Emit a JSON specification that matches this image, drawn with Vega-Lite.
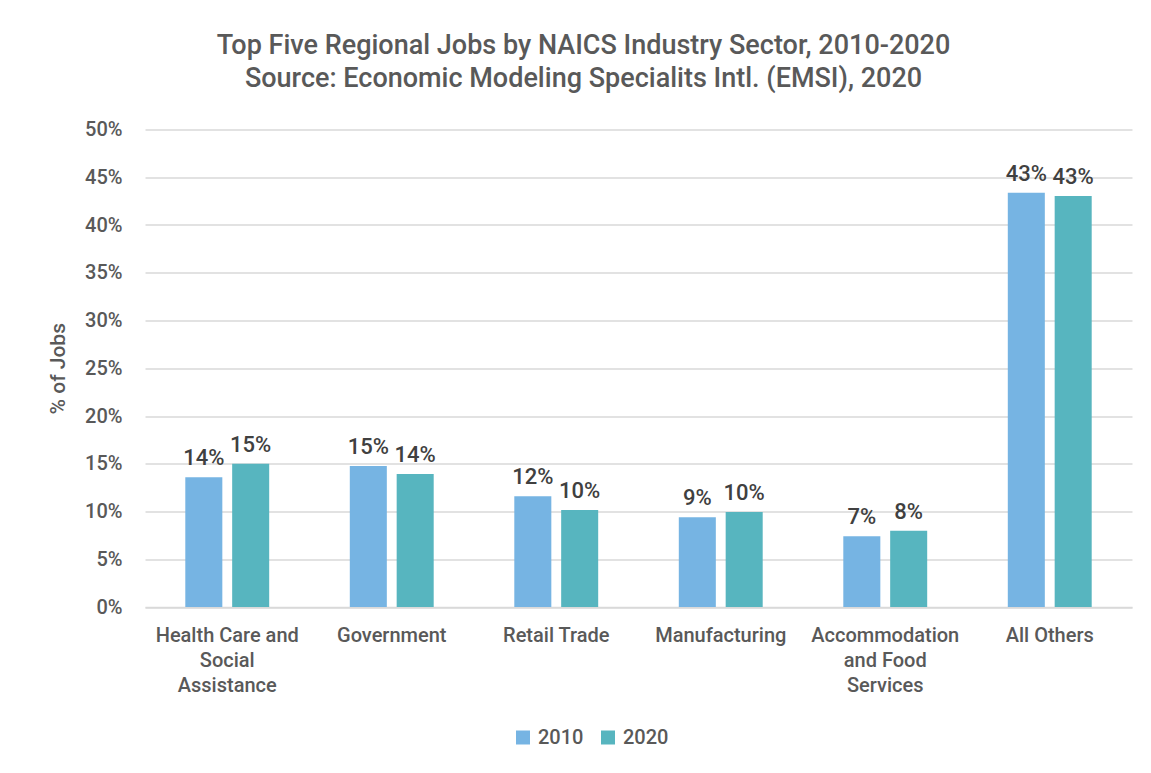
{
  "$schema": "https://vega.github.io/schema/vega-lite/v6.json",
  "width": 987,
  "height": 477.5,
  "autosize": {"type": "none"},
  "padding": {"left": 145, "top": 129.5, "right": 19, "bottom": 166},
  "background": "white",
  "title": {
    "text": ["Top Five Regional Jobs by NAICS Industry Sector, 2010-2020", "Source: Economic Modeling Specialits Intl. (EMSI), 2020"],
    "font": "Roboto",
    "fontSize": 27,
    "fontWeight": 500,
    "color": "#595959",
    "lineHeight": 33,
    "anchor": "middle",
    "dx": -55,
    "offset": 27
  },
  "data": {
    "values": [
      {"sector": "Health Care and Social Assistance", "year": "2010", "share": 0.1358},
      {"sector": "Health Care and Social Assistance", "year": "2020", "share": 0.1500},
      {"sector": "Government", "year": "2010", "share": 0.1476},
      {"sector": "Government", "year": "2020", "share": 0.1393},
      {"sector": "Retail Trade", "year": "2010", "share": 0.1159},
      {"sector": "Retail Trade", "year": "2020", "share": 0.1016},
      {"sector": "Manufacturing", "year": "2010", "share": 0.0939},
      {"sector": "Manufacturing", "year": "2020", "share": 0.0995},
      {"sector": "Accommodation and Food Services", "year": "2010", "share": 0.0740},
      {"sector": "Accommodation and Food Services", "year": "2020", "share": 0.0799},
      {"sector": "All Others", "year": "2010", "share": 0.4338},
      {"sector": "All Others", "year": "2020", "share": 0.4304}
    ]
  },
  "encoding": {
    "x": {
      "field": "sector",
      "type": "nominal",
      "sort": null,
      "scale": {"paddingInner": 0.49, "paddingOuter": 0.245},
      "axis": {
        "title": null,
        "labelAngle": 0,
        "labelFont": "Roboto",
        "labelFontSize": 20,
        "labelFontWeight": 500,
        "labelColor": "#595959",
        "labelPadding": 18,
        "labelLineHeight": 25,
        "labelBaseline": "top",
        "ticks": false,
        "domain": true,
        "domainColor": "#d9d9d9",
        "domainWidth": 1.5,
        "labelExpr": "datum.label == 'Health Care and Social Assistance' ? ['Health Care and', 'Social', 'Assistance'] : datum.label == 'Accommodation and Food Services' ? ['Accommodation', 'and Food', 'Services'] : datum.label"
      }
    },
    "xOffset": {"field": "year", "type": "nominal", "scale": {"paddingInner": 0.21, "paddingOuter": 0}},
    "y": {
      "field": "share",
      "type": "quantitative",
      "scale": {"domain": [0, 0.5], "nice": false},
      "axis": {
        "title": "% of Jobs",
        "titleFont": "Roboto",
        "titleFontSize": 21,
        "titleFontWeight": 500,
        "titleColor": "#595959",
        "titlePadding": 16,
        "format": ".0%",
        "values": [0, 0.05, 0.1, 0.15, 0.2, 0.25, 0.3, 0.35, 0.4, 0.45, 0.5],
        "labelFont": "Roboto",
        "labelFontSize": 20,
        "labelFontWeight": 500,
        "labelColor": "#595959",
        "labelPadding": 23,
        "ticks": false,
        "domain": false,
        "grid": true,
        "gridColor": "#d9d9d9",
        "gridWidth": 1.5
      }
    }
  },
  "layer": [
    {
      "mark": {"type": "bar"},
      "encoding": {
        "color": {
          "field": "year",
          "type": "nominal",
          "scale": {"domain": ["2010", "2020"], "range": ["#76B4E3", "#57B5BF"]},
          "legend": {
            "title": null,
            "orient": "none",
            "direction": "horizontal",
            "legendX": 368,
            "legendY": 598,
            "symbolType": "square",
            "symbolSize": 196,
            "symbolStrokeWidth": 0,
            "labelFont": "Roboto",
            "labelFontSize": 20,
            "labelFontWeight": 500,
            "labelColor": "#595959",
            "columnPadding": 14,
            "labelOffset": 5
          }
        }
      }
    },
    {
      "mark": {"type": "text", "baseline": "bottom", "dy": -7, "font": "Roboto", "fontSize": 22, "fontWeight": 500, "color": "#404040"},
      "encoding": {
        "text": {"field": "share", "type": "quantitative", "format": ".0%"}
      }
    }
  ],
  "config": {
    "view": {"stroke": null}
  }
}
